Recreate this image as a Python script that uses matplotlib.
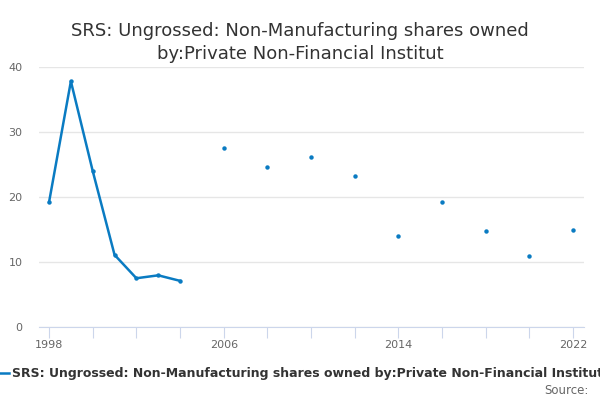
import numpy as np
import matplotlib
matplotlib.use("Agg")
import matplotlib.pyplot as plt
from matplotlib.lines import Line2D

years = list(range(1998, 2023))
values = [19.2, 37.8, 24.0, 11.1, 7.5, 7.95, 7.1, np.nan, 27.6, np.nan, 24.6, np.nan,
          26.1, np.nan, 23.2, np.nan, 14.0, np.nan, 19.3, np.nan, 14.8, np.nan, 11.0,
          np.nan, 14.9]
tick_years = list(range(1998, 2023, 2))
label_years = [1998, 2006, 2014, 2022]
yticks = [0, 10, 20, 30, 40]

title = "SRS: Ungrossed: Non-Manufacturing shares owned\nby:Private Non-Financial Institut"
series_name = "SRS: Ungrossed: Non-Manufacturing shares owned by:Private Non-Financial Institut"

blue = "#0a7bc2"
plt.rcParams["font.family"] = ["DejaVu Sans"]

fig = plt.figure(figsize=(6, 4), dpi=100)
ax = fig.add_axes([39 / 600, 73 / 400, 545 / 600, 260 / 400])

ax.plot(years, values, color=blue, linewidth=1.8, marker="o", markersize=3.2,
        markeredgewidth=0, zorder=3)

ax.set_xlim(1997.54, 2022.5)
ax.set_ylim(0, 40)
ax.set_yticks(yticks)
ax.set_xticks(tick_years)
ax.set_xticklabels([str(y) if y in label_years else "" for y in tick_years])
ax.grid(axis="y", color="#e6e6e6", linewidth=1)
ax.set_axisbelow(True)
for s in ["top", "right", "left"]:
    ax.spines[s].set_visible(False)
ax.spines["bottom"].set_color("#ccd6eb")
ax.tick_params(axis="x", length=8, color="#ccd6eb", labelcolor="#666666",
               labelsize=8, pad=1)
ax.tick_params(axis="y", length=0, labelcolor="#666666", labelsize=8, pad=12)

fig.text(0.5, 0.945, title, ha="center", va="top", fontsize=13, color="#333333",
         linespacing=1.35)

# legend entry runs off the right edge, as in the original
fig.lines.append(Line2D([0 / 600, 9 / 600], [27 / 400, 27 / 400], color=blue,
                        linewidth=1.8, transform=fig.transFigure))
fig.text(12 / 600, 27 / 400, series_name, ha="left", va="center", fontsize=9,
         fontweight="bold", color="#333333")
fig.text(589 / 600, 10 / 400, "Source:", ha="right", va="center", fontsize=8.5,
         color="#666666")

fig.savefig("out.png", dpi=100)
